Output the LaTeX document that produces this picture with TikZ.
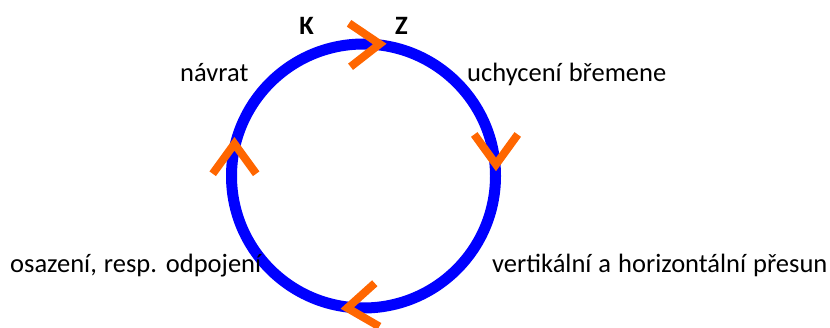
\documentclass[tikz,border=0pt]{standalone}
\usepackage{fontspec}
\setmainfont{Carlito}
\definecolor{cycleblue}{RGB}{0,0,255}
\definecolor{markorange}{RGB}{255,102,0}
\newcommand\lblfont{\fontsize{26.5}{31}\selectfont\spaceskip=7pt plus 2pt minus 1pt\relax}
\tikzset{
  lbl/.style={inner sep=0pt, font=\lblfont},
  chev/.style={draw=markorange, line width=8pt, line cap=butt, line join=miter}
}
\begin{document}
\begin{tikzpicture}[x=1pt, y=1pt]
    \useasboundingbox (0,0) rectangle (830,327);
    \clip (0,0) rectangle (830,327);
    \coordinate (c) at (363.5,151);
    \draw[cycleblue, line width=11pt] (c) circle[radius=132];
    \foreach \a/\d in {83/2, 166/90, 5/-90, 263/186} {
      \path (c) ++(\a:133) coordinate (v);
      \draw[chev] ([shift={(\d+144:37)}]v) -- (v) -- ([shift={(\d-144:37)}]v);
    }
    \node[lbl, font=\lblfont\bfseries, anchor=base] (k) at (306.5,292) {K};
    \node[lbl, font=\lblfont\bfseries, anchor=base] (z) at (401.5,292) {Z};
    \node[lbl, anchor=base west] (navrat) at (180,245) {návrat};
    \node[lbl, anchor=base west] (uchyceni) at (467,245) {uchycení břemene};
    \node[lbl, anchor=base west] (osazeni) at (10,55) {osazení, resp. odpojení};
    \node[lbl, anchor=base west] (presun) at (492,55) {vertikální a horizontální přesun};
\end{tikzpicture}
\end{document}
